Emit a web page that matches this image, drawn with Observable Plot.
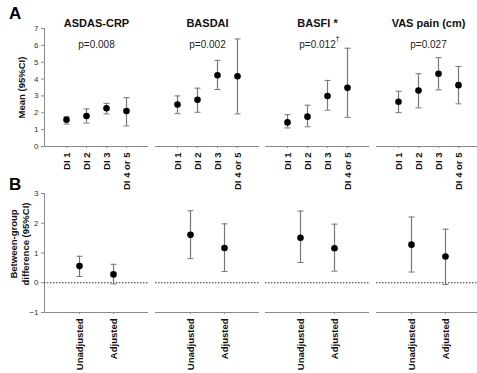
<!DOCTYPE html>
<html><head><meta charset="utf-8">
<script src="https://cdn.jsdelivr.net/npm/d3@7"></script>
<script src="https://cdn.jsdelivr.net/npm/@observablehq/plot@0.6"></script>
<style>
body{margin:0;background:#fff;width:477px;height:373px;overflow:hidden;position:relative;font-family:"Liberation Sans",Arial,sans-serif}
.p{position:absolute}
.p svg{max-width:none !important}
.lbl{position:absolute;font-weight:bold;font-size:17px;line-height:1}
</style></head><body>
<div class="lbl" style="left:9px;top:5px">A</div>
<div class="lbl" style="left:9px;top:176px">B</div>
<div id="root"></div>
<script>
// ---- data ----
const measures = ["ASDAS-CRP", "BASDAI", "BASFI *", "VAS pain (cm)"];
const pValues = ["p=0.008", "p=0.002", "p=0.012", "p=0.027"];
const pNotes = ["", "", "\u2020", ""];
const groups = ["DI 1", "DI 2", "DI 3", "DI 4 or 5"];
const yTicksTop = [0, 1, 2, 3, 4, 5, 6, 7];
const yLabelTop = ["Mean (95%CI)"];

const asdasMean = [1.59, 1.81, 2.27, 2.11];
const asdasLow  = [1.33, 1.39, 1.93, 1.22];
const asdasHigh = [1.77, 2.23, 2.56, 2.90];
const basdaiMean = [2.49, 2.77, 4.23, 4.17];
const basdaiLow  = [1.95, 2.03, 3.38, 1.93];
const basdaiHigh = [3.00, 3.46, 5.11, 6.38];
const basfiMean = [1.43, 1.77, 3.00, 3.48];
const basfiLow  = [1.10, 1.17, 2.15, 1.73];
const basfiHigh = [1.89, 2.45, 3.92, 5.83];
const vasMean = [2.65, 3.32, 4.32, 3.64];
const vasLow  = [2.01, 2.29, 3.36, 2.53];
const vasHigh = [3.28, 4.32, 5.27, 4.75];

const adjustments = ["Unadjusted", "Adjusted"];
const yTicksBottom = [-1, 0, 1, 2, 3];
const yLabelBottom = ["Between-group", "difference (95%CI)"];
const asdasDiff = [0.56, 0.28];
const asdasDiffLow = [0.21, -0.04];
const asdasDiffHigh = [0.89, 0.62];
const basdaiDiff = [1.61, 1.17];
const basdaiDiffLow = [0.81, 0.38];
const basdaiDiffHigh = [2.42, 1.98];
const basfiDiff = [1.51, 1.16];
const basfiDiffLow = [0.68, 0.39];
const basfiDiffHigh = [2.41, 1.97];
const vasDiff = [1.28, 0.88];
const vasDiffLow = [0.36, -0.06];
const vasDiffHigh = [2.21, 1.80];

// ---- build tables ----
const topSeries = [
  [asdasMean, asdasLow, asdasHigh],
  [basdaiMean, basdaiLow, basdaiHigh],
  [basfiMean, basfiLow, basfiHigh],
  [vasMean, vasLow, vasHigh]
];
const bottomSeries = [
  [asdasDiff, asdasDiffLow, asdasDiffHigh],
  [basdaiDiff, basdaiDiffLow, basdaiDiffHigh],
  [basfiDiff, basfiDiffLow, basfiDiffHigh],
  [vasDiff, vasDiffLow, vasDiffHigh]
];
function rows(cats, [m, lo, hi]) {
  return cats.map((c, i) => ({cat: c, mean: m[i], low: lo[i], high: hi[i]}));
}

// ---- layout ----
const FONT = "'Liberation Sans', Arial, sans-serif";
const AXIS = "#8a8a8a";
const BAR = "#777";
const LEFT0 = 44;          // left edge of first panel's plot area
const PANEL_W = 104;       // plot-area width of each panel
const STEP = 110.6;        // panel pitch
const cap = {draw(ctx) { ctx.moveTo(-3, 0); ctx.lineTo(3, 0); }};
const root = document.getElementById("root");

function panel({data, cats, yDomain, yTicks, i, top, height, marginTop, marginBottom, yLabel, labelDx, labelDy, extra}) {
  const first = i === 0;
  const ml = first ? LEFT0 : 0;
  const chart = Plot.plot({
    width: PANEL_W + ml,
    height,
    marginLeft: ml,
    marginRight: 0,
    marginTop,
    marginBottom,
    style: {background: "transparent", overflow: "visible", fontFamily: FONT, maxWidth: "none"},
    x: {type: "point", domain: cats, padding: 1},
    y: {domain: yDomain, axis: null},
    marks: [
      first ? Plot.axisY({ticks: yTicks, tickFormat: d3.format("d"), tickSize: 3, tickPadding: 3, fontSize: 8, stroke: AXIS, color: "#333", label: null}) : null,
      first ? Plot.frame({anchor: "left", stroke: AXIS}) : null,
      ...(extra || []),
      Plot.ruleY([yDomain[0]], {stroke: AXIS, strokeWidth: 1.2}),
      Plot.axisX({tickSize: 2, tickPadding: 4, tickRotate: -90, fontSize: 9.5, fontWeight: "bold", stroke: AXIS, color: "#111", label: null}),
      Plot.ruleX(data, {x: "cat", y1: "low", y2: "high", stroke: BAR, strokeWidth: 1.2}),
      Plot.dot(data, {x: "cat", y: "low", symbol: cap, stroke: BAR, fill: "none", strokeWidth: 1}),
      Plot.dot(data, {x: "cat", y: "high", symbol: cap, stroke: BAR, fill: "none", strokeWidth: 1}),
      Plot.dot(data, {x: "cat", y: "mean", r: 3.3, fill: "#000", stroke: "none"}),
      ...(first ? yLabel.map((t, k) => Plot.text([t], {frameAnchor: "left", textAnchor: "middle", dx: labelDx[k], dy: labelDy, rotate: -90, fontWeight: "bold", fontSize: 9.5, fill: "#111"})) : [])
    ]
  });
  const div = document.createElement("div");
  div.className = "p";
  div.style.left = (LEFT0 + i * STEP - ml) + "px";
  div.style.top = top + "px";
  div.appendChild(chart);
  root.appendChild(div);
}

measures.forEach((m, i) => {
  panel({
    data: rows(groups, topSeries[i]), cats: groups, yDomain: [0, 7], yTicks: yTicksTop, i,
    top: 0, height: 196, marginTop: 28, marginBottom: 50,
    yLabel: yLabelTop, labelDx: [-23], labelDy: 0,
    extra: [
      Plot.text([m], {frameAnchor: "top", dy: -9, fontWeight: "bold", fontSize: 11, fill: "#111"}),
      Plot.text([pValues[i]], {frameAnchor: "top", dy: 12, fontSize: 10, fill: "#222"}),
      Plot.text([pNotes[i]], {frameAnchor: "top", dx: 20, dy: 7, fontSize: 8, fill: "#222"})
    ]
  });
  panel({
    data: rows(adjustments, bottomSeries[i]), cats: adjustments, yDomain: [-1, 3], yTicks: yTicksBottom, i,
    top: 180, height: 193, marginTop: 13, marginBottom: 61,
    yLabel: yLabelBottom, labelDx: [-31, -19], labelDy: -9,
    extra: [
      Plot.ruleY([0], {stroke: "#333", strokeDasharray: "1.5,1.5", strokeWidth: 1})
    ]
  });
});
</script>
</body></html>
